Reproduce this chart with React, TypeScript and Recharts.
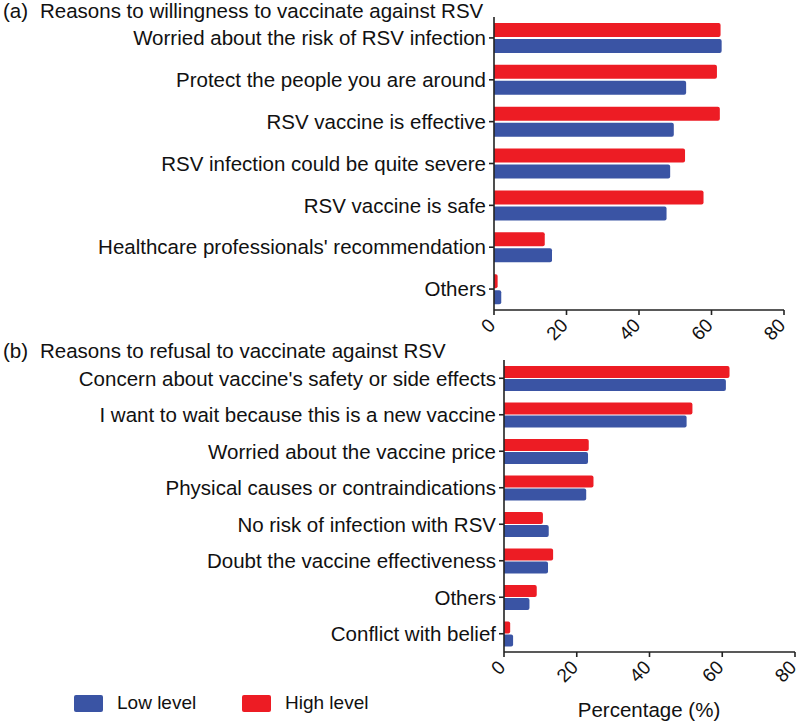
import React from "react";
import { BarChart, Bar, XAxis, YAxis } from "recharts";

const willingCategories = [
  "Worried about the risk of RSV infection",
  "Protect the people you are around",
  "RSV vaccine is effective",
  "RSV infection could be quite severe",
  "RSV vaccine is safe",
  "Healthcare professionals' recommendation",
  "Others",
];
const willingLow = [62.8, 53.0, 49.6, 48.6, 47.6, 16.0, 2.0];
const willingHigh = [62.5, 61.5, 62.3, 52.7, 57.8, 14.0, 1.0];

const refusalCategories = [
  "Concern about vaccine's safety or side effects",
  "I want to wait because this is a new vaccine",
  "Worried about the vaccine price",
  "Physical causes or contraindications",
  "No risk of infection with RSV",
  "Doubt the vaccine effectiveness",
  "Others",
  "Conflict with belief",
];
const refusalLow = [61.0, 50.2, 23.1, 22.6, 12.3, 12.1, 7.0, 2.5];
const refusalHigh = [62.0, 51.8, 23.3, 24.6, 10.7, 13.5, 9.0, 1.7];

const xTicks = [0, 20, 40, 60, 80];

const LOW_COLOR = "#3A54A4";
const HIGH_COLOR = "#ED1C24";
const AXIS_COLOR = "#222";
const FONT = "Arial, 'Liberation Sans', Helvetica, sans-serif";
const LABEL_SIZE = 20.5;

const willingData = willingCategories.map((name, i) => ({
  name,
  low: willingLow[i],
  high: willingHigh[i],
}));
const refusalData = refusalCategories.map((name, i) => ({
  name,
  low: refusalLow[i],
  high: refusalHigh[i],
}));

const XTick = (props: any) => {
  const { x, y, payload } = props;
  const px = x - 2;
  const py = y + 3;
  return (
    <text
      x={px}
      y={py}
      transform={`rotate(-45, ${px}, ${py})`}
      textAnchor="end"
      dominantBaseline="central"
      fontSize={19}
      fontFamily={FONT}
      fill="#111"
    >
      {payload.value}
    </text>
  );
};

const Panel = ({
  data,
  yWidth,
  height,
  top,
  right,
  barSize,
  barGap,
}: any) => (
  <BarChart
    width={800}
    height={height}
    data={data}
    layout="vertical"
    margin={{ top, right, bottom: 0, left: 0 }}
    barGap={barGap}
  >
    <XAxis
      type="number"
      domain={[0, 80]}
      ticks={xTicks}
      height={35}
      axisLine={{ stroke: AXIS_COLOR, strokeWidth: 1.6 }}
      tickLine={{ stroke: AXIS_COLOR, strokeWidth: 1.6 }}
      tickSize={5}
      tickMargin={4}
      tick={<XTick />}
      interval={0}
    />
    <YAxis
      type="category"
      dataKey="name"
      width={yWidth}
      axisLine={{ stroke: AXIS_COLOR, strokeWidth: 1.6 }}
      tickLine={{ stroke: AXIS_COLOR, strokeWidth: 1.6 }}
      tickSize={5}
      tickMargin={3}
      interval={0}
      tick={{ fontSize: LABEL_SIZE, fill: "#111", fontFamily: FONT }}
    />
    <Bar
      dataKey="high"
      fill={HIGH_COLOR}
      barSize={barSize}
      radius={[0, 2, 2, 0]}
      isAnimationActive={false}
    />
    <Bar
      dataKey="low"
      fill={LOW_COLOR}
      barSize={barSize}
      radius={[0, 2, 2, 0]}
      isAnimationActive={false}
    />
  </BarChart>
);

export default function App() {
  const textStyle: React.CSSProperties = {
    position: "absolute",
    fontFamily: FONT,
    fontSize: LABEL_SIZE,
    color: "#111",
    lineHeight: "22px",
    whiteSpace: "nowrap",
  };
  return (
    <div
      style={{
        position: "absolute",
        left: 0,
        top: 0,
        width: 800,
        height: 725,
        background: "#fff",
        overflow: "hidden",
      }}
    >
      <div style={{ position: "absolute", left: 0, top: 0 }}>
        <Panel
          data={willingData}
          yWidth={494}
          height={345}
          top={17}
          right={16}
          barSize={14}
          barGap={2}
        />
      </div>
      <div style={{ position: "absolute", left: 0, top: 340 }}>
        <Panel
          data={refusalData}
          yWidth={504}
          height={347}
          top={20}
          right={5}
          barSize={12}
          barGap={1}
        />
      </div>

      <div style={{ ...textStyle, left: 3, top: 0 }}>(a)</div>
      <div style={{ ...textStyle, left: 40, top: 0 }}>
        Reasons to willingness to vaccinate against RSV
      </div>
      <div style={{ ...textStyle, left: 3, top: 340 }}>(b)</div>
      <div style={{ ...textStyle, left: 40, top: 340 }}>
        Reasons to refusal to vaccinate against RSV
      </div>

      <div
        style={{
          ...textStyle,
          left: 649,
          top: 699,
          transform: "translateX(-50%)",
        }}
      >
        Percentage (%)
      </div>

      <div
        style={{
          position: "absolute",
          left: 74,
          top: 695,
          width: 29,
          height: 17,
          background: LOW_COLOR,
          borderRadius: 2,
        }}
      />
      <div style={{ ...textStyle, fontSize: 19, left: 117, top: 692 }}>
        Low level
      </div>
      <div
        style={{
          position: "absolute",
          left: 242,
          top: 695,
          width: 29,
          height: 17,
          background: HIGH_COLOR,
          borderRadius: 2,
        }}
      />
      <div style={{ ...textStyle, fontSize: 19, left: 285, top: 692 }}>
        High level
      </div>
    </div>
  );
}
